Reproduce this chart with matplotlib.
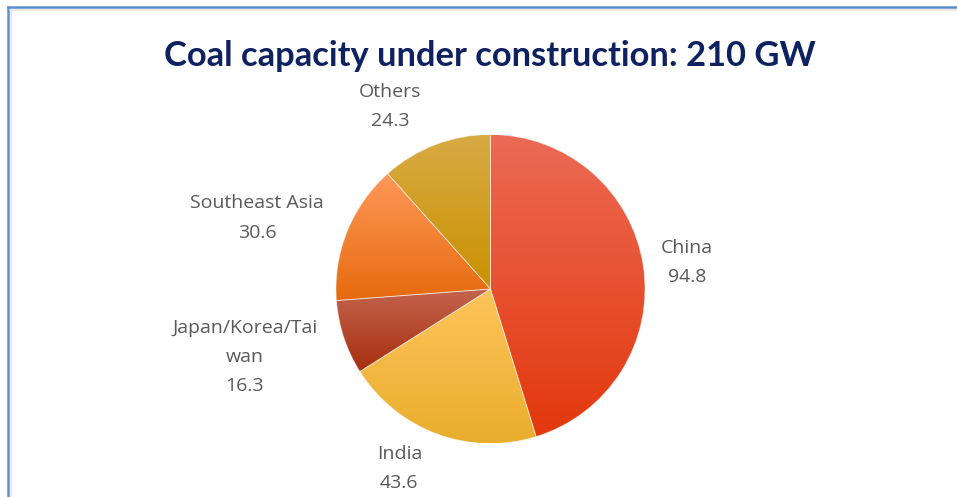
import matplotlib
matplotlib.use("Agg")
import matplotlib.pyplot as plt
import numpy as np
from matplotlib.colors import LinearSegmentedColormap
from matplotlib.lines import Line2D

# Data
categories = ["China", "India", "Japan/Korea/Tai\nwan", "Southeast Asia", "Others"]
values = [94.8, 43.6, 16.3, 30.6, 24.3]
title = "Coal capacity under construction: 210 GW"

# Styles
top_colors = ["#EC6A55", "#FFC45A", "#C4644E", "#FF9858", "#D9AA45"]
bottom_colors = ["#E2380C", "#E8AD2C", "#A62E0E", "#E66A0E", "#C99200"]
label_offsets = [(1.27, 0.17), (-0.59, -1.16), (-1.59, -0.44), (-1.51, 0.46), (-0.65, 1.18)]

W, H = 957, 497
fig = plt.figure(figsize=(W / 100, H / 100), dpi=100)
fig.patch.set_facecolor("white")

# frame lines (blue border top and left, with light gray inner line)
fig.add_artist(Line2D([8 / W, 1], [1 - 7 / H, 1 - 7 / H], color="#5B8ED0", lw=1.8))
fig.add_artist(Line2D([8 / W, 8 / W], [0, 1 - 7 / H], color="#5B8ED0", lw=1.8))
fig.add_artist(Line2D([10 / W, 1], [1 - 10 / H, 1 - 10 / H], color="#E4E4E4", lw=1.2))
fig.add_artist(Line2D([11 / W, 11 / W], [0, 1 - 10 / H], color="#E4E4E4", lw=1.2))

cx, cy, r = 490.5, 289, 154.5
ax = fig.add_axes([(cx - r) / W, (H - cy - r) / H, 2 * r / W, 2 * r / H])
wedges, _ = ax.pie(values, startangle=90, counterclock=False, radius=1,
                   wedgeprops=dict(linewidth=0.6, edgecolor=(1, 1, 1, 0.5)))
ax.set_xlim(-1, 1)
ax.set_ylim(-1, 1)
ax.set_aspect("equal")
ax.axis("off")

for w, tc, bc in zip(wedges, top_colors, bottom_colors):
    w.set_facecolor("none")
    verts = w.get_path().vertices
    ymin, ymax = verts[:, 1].min(), verts[:, 1].max()
    xmin, xmax = verts[:, 0].min(), verts[:, 0].max()
    cmap = LinearSegmentedColormap.from_list("g", [bc, tc])
    grad = np.linspace(0, 1, 256).reshape(-1, 1)
    im = ax.imshow(grad, cmap=cmap, origin="lower", aspect="auto",
                   extent=(xmin, xmax, ymin, ymax), zorder=w.get_zorder() - 0.1,
                   interpolation="bilinear")
    im.set_clip_path(w)
ax.set_xlim(-1, 1)
ax.set_ylim(-1, 1)

for cat, val, (dx, dy) in zip(categories, values, label_offsets):
    ax.text(dx, dy, f"{cat}\n{val}", ha="center", va="center", fontsize=14,
            color="#595959", family="Open Sans", linespacing=1.8, clip_on=False)

fig.text(490 / W, 1 - 56 / H, title, ha="center", va="center", fontsize=24.8,
         fontweight="bold", color="#0E2160", family="Lato")

fig.savefig("out.png", dpi=100)
